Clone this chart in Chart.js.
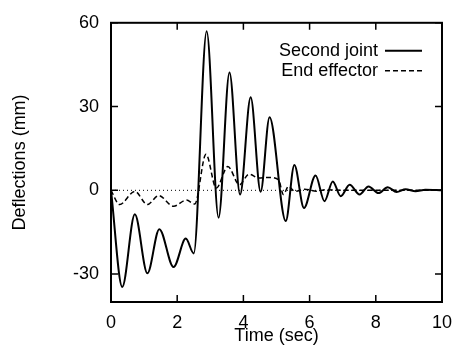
<!DOCTYPE html>
<html>
<head>
<meta charset="utf-8">
<script src="https://cdn.jsdelivr.net/npm/chart.js@4"></script>
<style>
  body { margin: 0; background: #fff; }
</style>
</head>
<body>
<canvas id="chart" width="462" height="347"></canvas>
<script>
'use strict';

// values (time in sec, deflection in mm)
let jointTime = [0, 0.34, 0.72, 1.10, 1.46, 1.89, 2.26, 2.50, 2.89, 3.25, 3.58, 3.90, 4.22, 4.52, 4.79, 5.28, 5.54, 5.83, 6.18, 6.45, 6.70, 6.94, 7.21, 7.51, 7.78, 8.08, 8.36, 8.63, 8.90, 9.20, 9.50, 10];
let jointDefl = [0, -34.6, -8.6, -29.7, -13.9, -27.5, -17.3, -22.6, 57, -9.8, 42.2, -1.5, 33.3, -0.5, 26.2, -11, 9.1, -6.3, 5.3, -3.9, 3.2, -2.1, 2.0, -1.5, 1.4, -1.0, 1.1, -0.6, 0.4, -0.3, 0.2, 0];

let effTime = [0, 0.26, 0.72, 1.10, 1.44, 1.89, 2.28, 2.53, 2.87, 3.18, 3.53, 3.88, 4.17, 4.47, 4.77, 5.06, 5.21, 5.36, 5.56, 5.85, 6.2, 6.5, 7, 10];
let effDefl = [0, -5.1, -0.4, -5.1, -1.9, -5.7, -3.5, -4.9, 12.9, 0.8, 8.5, 2.0, 5.8, 4.4, 4.6, 3.8, -1.5, 1.4, -0.4, 0.4, -0.3, 0.2, 0, 0];

let xTicks = [0, 2, 4, 6, 8, 10];
let yTicks = [-30, 0, 30, 60];

let seriesNames = ['Second joint', 'End effector'];

function toPoints(xs, ys) {
  let pts = [];
  for (let i = 0; i < xs.length; i++) {
    pts.push({ x: xs[i], y: ys[i] });
  }
  return pts;
}

const fontFamily = '"Liberation Sans", Arial, Helvetica, sans-serif';

// frame, inward ticks on all four sides, and the gnuplot-like key
const framePlugin = {
  id: 'frame',
  afterDraw(chart) {
    let ctx = chart.ctx;
    let area = chart.chartArea;
    let xs = chart.scales.x;
    let ys = chart.scales.y;
    let tick = 7;

    ctx.save();
    ctx.strokeStyle = '#000';
    ctx.lineWidth = 2;
    ctx.setLineDash([]);
    ctx.strokeRect(area.left, area.top, area.right - area.left, area.bottom - area.top);

    ctx.lineWidth = 1.5;
    ctx.beginPath();
    for (let v of xTicks) {
      let px = xs.getPixelForValue(v);
      ctx.moveTo(px, area.bottom);
      ctx.lineTo(px, area.bottom - tick);
      ctx.moveTo(px, area.top);
      ctx.lineTo(px, area.top + tick);
    }
    for (let v of yTicks) {
      let py = ys.getPixelForValue(v);
      ctx.moveTo(area.left, py);
      ctx.lineTo(area.left + tick, py);
      ctx.moveTo(area.right, py);
      ctx.lineTo(area.right - tick, py);
    }
    ctx.stroke();

    // key
    ctx.font = '18px ' + fontFamily;
    ctx.fillStyle = '#000';
    ctx.textAlign = 'right';
    ctx.textBaseline = 'middle';
    let textRight = area.right - 64;
    let lineLeft = area.right - 57;
    let lineRight = area.right - 20;
    for (let i = 0; i < seriesNames.length; i++) {
      let ds = chart.data.datasets[i];
      let y = area.top + 28 + i * 20;
      ctx.fillText(seriesNames[i], textRight, y);
      ctx.lineWidth = ds.borderWidth;
      ctx.setLineDash(ds.borderDash || []);
      ctx.beginPath();
      ctx.moveTo(lineLeft, y);
      ctx.lineTo(lineRight, y);
      ctx.stroke();
    }
    ctx.restore();
  }
};

const data = {
  datasets: [{
    label: seriesNames[0],
    data: toPoints(jointTime, jointDefl),
    borderColor: '#000',
    borderWidth: 2,
    cubicInterpolationMode: 'monotone',
    pointRadius: 0,
    fill: false
  },
  {
    label: seriesNames[1],
    data: toPoints(effTime, effDefl),
    borderColor: '#000',
    borderWidth: 1.5,
    borderDash: [5, 3],
    cubicInterpolationMode: 'monotone',
    pointRadius: 0,
    fill: false
  },
  {
    label: 'zero',
    data: toPoints([0, 10], [0, 0]),
    borderColor: '#000',
    borderWidth: 1,
    borderDash: [1, 3],
    pointRadius: 0,
    fill: false
  }]
};

const config = {
  type: 'line',
  data: data,
  plugins: [framePlugin],
  options: {
    responsive: false,
    animation: false,
    devicePixelRatio: 1,
    layout: {
      padding: { left: 0, right: 14, top: 19, bottom: 0 }
    },
    plugins: {
      legend: { display: false },
      tooltip: { enabled: false }
    },
    scales: {
      x: {
        type: 'linear',
        min: 0,
        max: 10,
        afterBuildTicks: (scale) => { scale.ticks = xTicks.map(v => ({ value: v })); },
        afterFit: (scale) => { scale.height = 45; },
        grid: { display: false, drawTicks: false },
        border: { display: false },
        ticks: {
          padding: 10,
          color: '#000',
          maxRotation: 0,
          font: { size: 18, family: fontFamily }
        },
        title: {
          display: true,
          text: 'Time (sec)',
          color: '#000',
          padding: { top: 0, bottom: 0 },
          font: { size: 18, family: fontFamily }
        }
      },
      y: {
        type: 'linear',
        min: -40,
        max: 60,
        afterBuildTicks: (scale) => { scale.ticks = yTicks.map(v => ({ value: v })); },
        afterFit: (scale) => { scale.width = 111; },
        grid: { display: false, drawTicks: false },
        border: { display: false },
        ticks: {
          padding: 12,
          color: '#000',
          font: { size: 18, family: fontFamily }
        },
        title: {
          display: true,
          text: 'Deflections (mm)',
          color: '#000',
          padding: { top: 9, bottom: 0 },
          font: { size: 18, family: fontFamily }
        }
      }
    }
  }
};

const newChart = new Chart(document.getElementById('chart'), config);
</script>
</body>
</html>
